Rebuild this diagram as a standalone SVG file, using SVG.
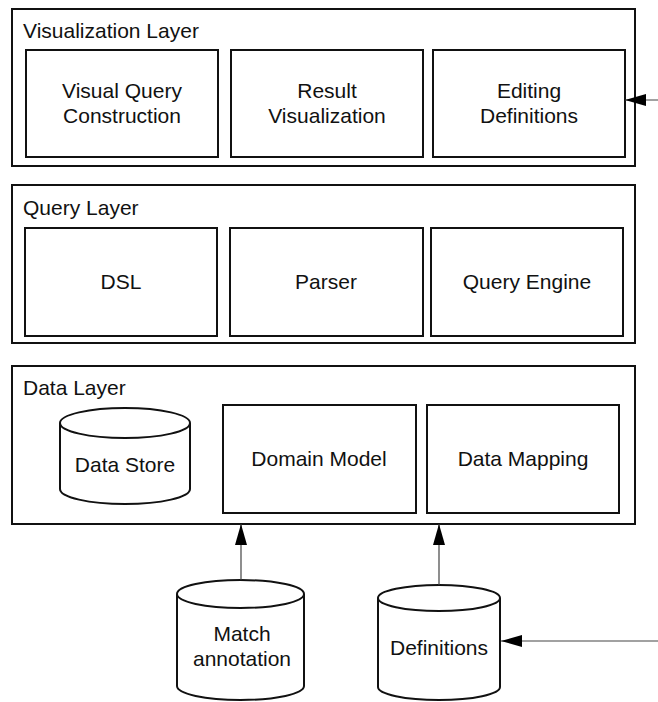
<svg xmlns="http://www.w3.org/2000/svg" width="658" height="702" viewBox="0 0 658 702">
  <style>
    .frame { fill: #fff; stroke: #111; stroke-width: 2; }
    .box { fill: #fff; stroke: #111; stroke-width: 2; }
    .db { fill: #fff; stroke: #111; stroke-width: 2; }
    .title { font-family: "Liberation Sans", Arial, sans-serif; font-size: 21px; fill: #111; }
    .lbl { font-family: "Liberation Sans", Arial, sans-serif; font-size: 21px; fill: #111; text-anchor: middle; }
    .edge { fill: none; stroke: #444; stroke-width: 1.2; marker-end: url(#head); }
  </style>
  <defs>
    <marker id="head" markerWidth="21" markerHeight="12" refX="21" refY="6" orient="auto" markerUnits="userSpaceOnUse">
      <path d="M0,0 L21,6 L0,12 Z" fill="#000"/>
    </marker>
  </defs>
  <rect width="658" height="702" fill="#fff"/>

  <!-- Visualization layer -->
  <g id="visualization-layer">
    <rect class="frame" x="12" y="9" width="623" height="157"/>
    <text class="title" x="23" y="38">Visualization Layer</text>
  </g>
  <g id="visual-query-construction">
    <rect class="box" x="26" y="50" width="192" height="107"/>
    <text class="lbl" x="122" y="98">Visual Query</text>
    <text class="lbl" x="122" y="123">Construction</text>
  </g>
  <g id="result-visualization">
    <rect class="box" x="231" y="50" width="192" height="107"/>
    <text class="lbl" x="327" y="98">Result</text>
    <text class="lbl" x="327" y="123">Visualization</text>
  </g>
  <g id="editing-definitions">
    <rect class="box" x="433" y="50" width="192" height="107"/>
    <text class="lbl" x="529" y="98">Editing</text>
    <text class="lbl" x="529" y="123">Definitions</text>
  </g>

  <!-- Query layer -->
  <g id="query-layer">
    <rect class="frame" x="12" y="185" width="623" height="158"/>
    <text class="title" x="23" y="215">Query Layer</text>
  </g>
  <g id="dsl">
    <rect class="box" x="25" y="228" width="192" height="108"/>
    <text class="lbl" x="121" y="289">DSL</text>
  </g>
  <g id="parser">
    <rect class="box" x="230" y="228" width="193" height="108"/>
    <text class="lbl" x="326" y="289">Parser</text>
  </g>
  <g id="query-engine">
    <rect class="box" x="431" y="228" width="192" height="108"/>
    <text class="lbl" x="527" y="289">Query Engine</text>
  </g>

  <!-- Data layer -->
  <g id="data-layer">
    <rect class="frame" x="12" y="366" width="623" height="158"/>
    <text class="title" x="23" y="395">Data Layer</text>
  </g>
  <g id="data-store">
    <path class="db" d="M60,423 A65,15 0 0 1 190,423 L190,489 A65,15 0 0 1 60,489 Z"/>
    <path class="db" d="M60,423 A65,15 0 0 0 190,423" fill="none"/>
    <text class="lbl" x="125" y="472">Data Store</text>
  </g>
  <g id="domain-model">
    <rect class="box" x="223" y="405" width="193" height="108"/>
    <text class="lbl" x="319" y="466">Domain Model</text>
  </g>
  <g id="data-mapping">
    <rect class="box" x="427" y="405" width="192" height="108"/>
    <text class="lbl" x="523" y="466">Data Mapping</text>
  </g>

  <!-- External stores -->
  <g id="match-annotation">
    <path class="db" d="M177,594 A63.5,14 0 0 1 304,594 L304,686 A63.5,14 0 0 1 177,686 Z"/>
    <path class="db" d="M177,594 A63.5,14 0 0 0 304,594" fill="none"/>
    <text class="lbl" x="242" y="641">Match</text>
    <text class="lbl" x="242" y="666">annotation</text>
  </g>
  <g id="definitions">
    <path class="db" d="M378,598 A61,13 0 0 1 500,598 L500,687 A61,13 0 0 1 378,687 Z"/>
    <path class="db" d="M378,598 A61,13 0 0 0 500,598" fill="none"/>
    <text class="lbl" x="439" y="655">Definitions</text>
  </g>

  <!-- Connectors -->
  <g id="connectors">
    <line class="edge" x1="658" y1="100" x2="625" y2="100"/>
    <line class="edge" x1="241" y1="580" x2="241" y2="524"/>
    <line class="edge" x1="439" y1="585" x2="439" y2="524"/>
    <line class="edge" x1="658" y1="641" x2="501" y2="641"/>
  </g>
</svg>
